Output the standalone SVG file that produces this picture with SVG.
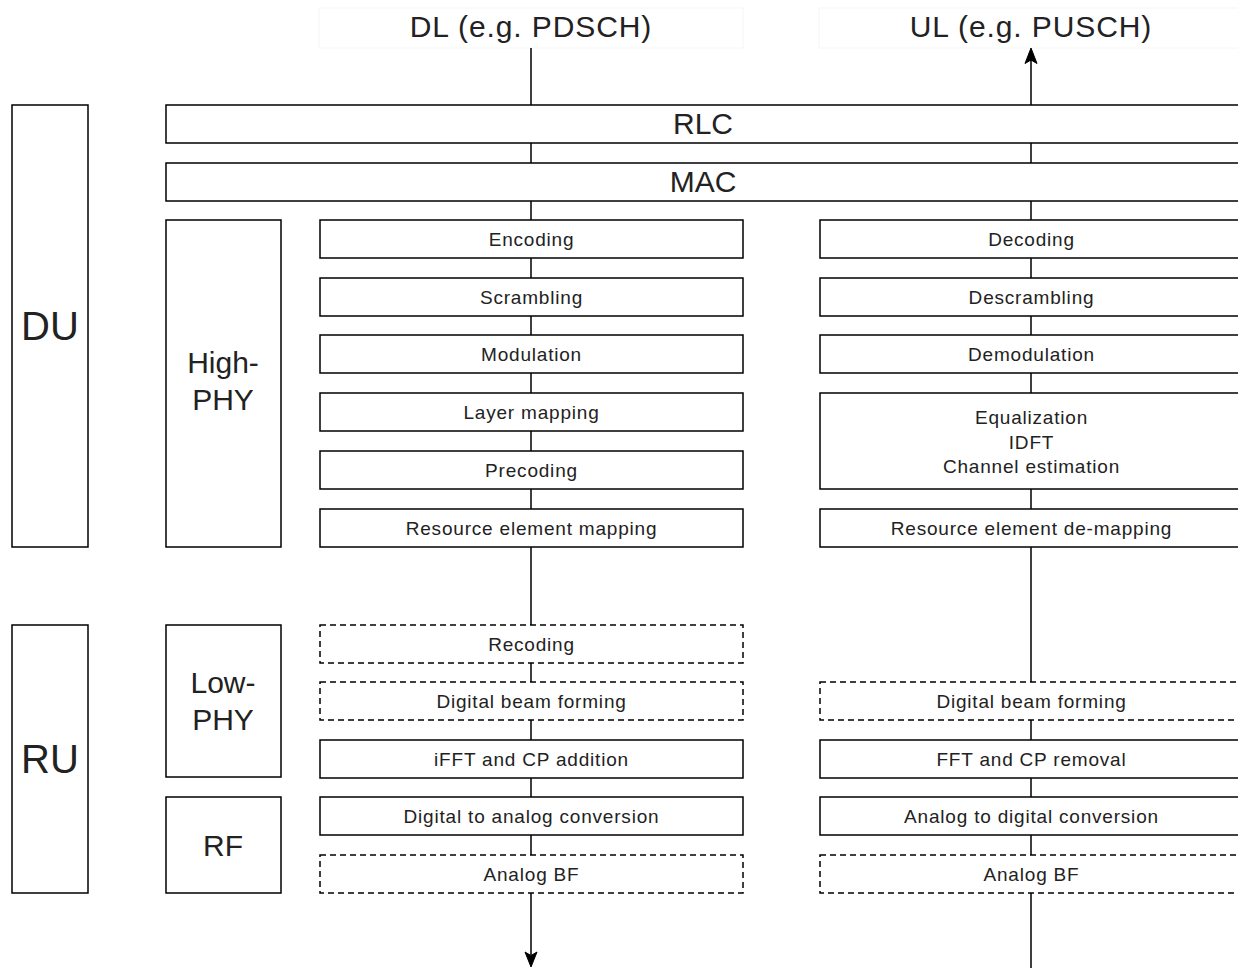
<svg xmlns="http://www.w3.org/2000/svg" width="1238" height="968" viewBox="0 0 1238 968">
<defs>
<style>
.b{fill:#fff;stroke:#000;stroke-width:1.5}
.d{fill:#fff;stroke:#000;stroke-width:1.5;stroke-dasharray:6 4}
.lb{fill:#fff;stroke:#f6f6f6;stroke-width:1}
.t{font-family:"Liberation Sans",Arial,sans-serif;fill:#222;text-anchor:middle}
.s{font-size:19px;letter-spacing:0.8px}
.m{font-size:30px}
.h{font-size:30px;letter-spacing:0.9px}
.l{font-size:40px}
.c{stroke:#000;stroke-width:1.5;fill:none}
.ah{fill:#000;stroke:#000;stroke-width:1}
</style>
</defs>
<rect width="1238" height="968" fill="#fff"/>

<g id="label-dl"><rect class="lb" x="319" y="8" width="424" height="40"/><text class="t h" x="531" y="37">DL (e.g. PDSCH)</text></g>
<g id="label-ul"><rect class="lb" x="819" y="8" width="424" height="40"/><text class="t h" x="1031" y="37">UL (e.g. PUSCH)</text></g>

<g id="du"><rect class="b" x="12" y="105" width="76" height="442"/><text class="t l" x="50" y="340">DU</text></g>
<g id="ru"><rect class="b" x="12" y="625" width="76" height="268"/><text class="t l" x="50" y="773">RU</text></g>

<g id="rlc"><rect class="b" x="166" y="105" width="1074" height="38"/><text class="t m" x="703" y="134">RLC</text></g>
<g id="mac"><rect class="b" x="166" y="163" width="1074" height="38"/><text class="t m" x="703" y="192">MAC</text></g>

<g id="high-phy"><rect class="b" x="166" y="220" width="115" height="327"/><text class="t m" x="223" y="373">High-</text><text class="t m" x="223" y="410">PHY</text></g>
<g id="low-phy"><rect class="b" x="166" y="625" width="115" height="152"/><text class="t m" x="223" y="693">Low-</text><text class="t m" x="223" y="730">PHY</text></g>
<g id="rf"><rect class="b" x="166" y="797" width="115" height="96"/><text class="t m" x="223" y="856">RF</text></g>

<g id="dl-encoding"><rect class="b" x="320" y="220" width="423" height="38"/><text class="t s" x="531.5" y="246">Encoding</text></g>
<g id="dl-scrambling"><rect class="b" x="320" y="278" width="423" height="38"/><text class="t s" x="531.5" y="304">Scrambling</text></g>
<g id="dl-modulation"><rect class="b" x="320" y="335" width="423" height="38"/><text class="t s" x="531.5" y="361">Modulation</text></g>
<g id="dl-layer-mapping"><rect class="b" x="320" y="393" width="423" height="38"/><text class="t s" x="531.5" y="419">Layer mapping</text></g>
<g id="dl-precoding"><rect class="b" x="320" y="451" width="423" height="38"/><text class="t s" x="531.5" y="477">Precoding</text></g>
<g id="dl-re-mapping"><rect class="b" x="320" y="509" width="423" height="38"/><text class="t s" x="531.5" y="535">Resource element mapping</text></g>
<g id="dl-recoding"><rect class="d" x="320" y="625" width="423" height="38"/><text class="t s" x="531.5" y="651">Recoding</text></g>
<g id="dl-dbf"><rect class="d" x="320" y="682" width="423" height="38"/><text class="t s" x="531.5" y="708">Digital beam forming</text></g>
<g id="dl-ifft"><rect class="b" x="320" y="740" width="423" height="38"/><text class="t s" x="531.5" y="766">iFFT and CP addition</text></g>
<g id="dl-dac"><rect class="b" x="320" y="797" width="423" height="38"/><text class="t s" x="531.5" y="823">Digital to analog conversion</text></g>
<g id="dl-abf"><rect class="d" x="320" y="855" width="423" height="38"/><text class="t s" x="531.5" y="881">Analog BF</text></g>

<g id="ul-decoding"><rect class="b" x="820" y="220" width="423" height="38"/><text class="t s" x="1031.5" y="246">Decoding</text></g>
<g id="ul-descrambling"><rect class="b" x="820" y="278" width="423" height="38"/><text class="t s" x="1031.5" y="304">Descrambling</text></g>
<g id="ul-demodulation"><rect class="b" x="820" y="335" width="423" height="38"/><text class="t s" x="1031.5" y="361">Demodulation</text></g>
<g id="ul-equalization"><rect class="b" x="820" y="393" width="423" height="96"/><text class="t s" x="1031.5" y="424">Equalization</text><text class="t s" x="1031.5" y="448.5">IDFT</text><text class="t s" x="1031.5" y="473">Channel estimation</text></g>
<g id="ul-re-demapping"><rect class="b" x="820" y="509" width="423" height="38"/><text class="t s" x="1031.5" y="535">Resource element de-mapping</text></g>
<g id="ul-dbf"><rect class="d" x="820" y="682" width="423" height="38"/><text class="t s" x="1031.5" y="708">Digital beam forming</text></g>
<g id="ul-fft"><rect class="b" x="820" y="740" width="423" height="38"/><text class="t s" x="1031.5" y="766">FFT and CP removal</text></g>
<g id="ul-adc"><rect class="b" x="820" y="797" width="423" height="38"/><text class="t s" x="1031.5" y="823">Analog to digital conversion</text></g>
<g id="ul-abf"><rect class="d" x="820" y="855" width="423" height="38"/><text class="t s" x="1031.5" y="881">Analog BF</text></g>

<g id="connectors">
<path class="c" d="M531 48V105M531 143V163M531 201V220M531 258V278M531 316V335M531 373V393M531 431V451M531 489V509M531 547V625M531 663V682M531 720V740M531 778V797M531 835V855M531 893V955"/>
<path class="ah" d="M531 967L525 952L531 955.5L537 952Z"/>
<path class="c" d="M1031 968V893M1031 855V835M1031 797V778M1031 740V720M1031 682V547M1031 509V489M1031 393V373M1031 335V316M1031 278V258M1031 220V201M1031 163V143M1031 105V60"/>
<path class="ah" d="M1031 48L1025 63.5L1031 60L1037 63.5Z"/>
</g>
</svg>
